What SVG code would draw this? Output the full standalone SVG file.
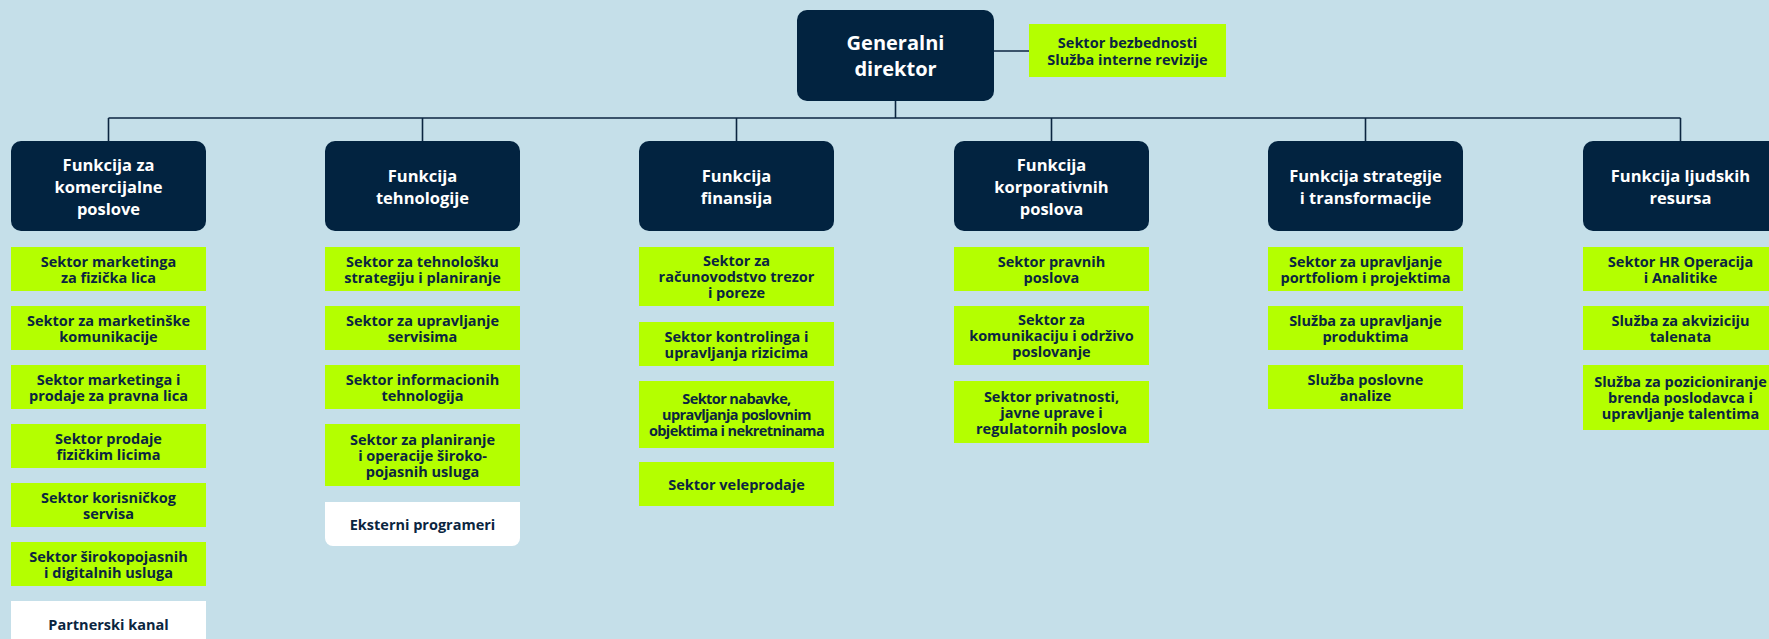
<svg xmlns="http://www.w3.org/2000/svg" width="1769" height="639" viewBox="0 0 1769 639">
<style>
.bg{fill:#c5dfe9}
.dk{fill:#022340}
.gr{fill:#b4ff00}
.wh{fill:#ffffff}
.ln{stroke:#0b2540;stroke-width:1.6;fill:none}
text{font-family:"Open Sans","Liberation Sans",sans-serif;font-weight:700;text-anchor:middle;dominant-baseline:central}
.ht{fill:#ffffff;font-size:16.5px}
.gt{fill:#0b2540;font-size:14.5px}
.tt{fill:#ffffff;font-size:20px}
.cd{letter-spacing:-0.6px}
</style>
<rect class="bg" x="0" y="0" width="1769" height="639"/>
<g id="connectors">
<line class="ln" x1="895.5" y1="101" x2="895.5" y2="118"/>
<line class="ln" x1="994" y1="51" x2="1029" y2="51"/>
<line class="ln" x1="108.5" y1="118" x2="1680.5" y2="118"/>
<line class="ln" x1="108.5" y1="118" x2="108.5" y2="141"/>
<line class="ln" x1="422.5" y1="118" x2="422.5" y2="141"/>
<line class="ln" x1="736.5" y1="118" x2="736.5" y2="141"/>
<line class="ln" x1="1051.5" y1="118" x2="1051.5" y2="141"/>
<line class="ln" x1="1365.5" y1="118" x2="1365.5" y2="141"/>
<line class="ln" x1="1680.5" y1="118" x2="1680.5" y2="141"/>
</g>
<g id="gd">
<rect class="dk" x="797" y="10" width="197" height="91" rx="10"/>
<text class="tt" x="895.5" y="42">Generalni</text>
<text class="tt" x="895.5" y="68">direktor</text>
</g>
<g id="side">
<rect class="gr" x="1029" y="24" width="197" height="53"/>
<text class="gt" x="1127.5" y="42.5">Sektor bezbednosti</text>
<text class="gt" x="1127.5" y="59">Služba interne revizije</text>
</g>
<!-- Column 1 -->
<g id="f1">
<rect class="dk" x="11" y="141" width="195" height="90" rx="10"/>
<text class="ht" x="108.5" y="164">Funkcija za</text>
<text class="ht" x="108.5" y="186">komercijalne</text>
<text class="ht" x="108.5" y="208">poslove</text>
</g>
<g id="f1s1"><rect class="gr" x="11" y="247" width="195" height="44"/>
<text class="gt" x="108.5" y="261">Sektor marketinga</text><text class="gt" x="108.5" y="277">za fizička lica</text></g>
<g id="f1s2"><rect class="gr" x="11" y="306" width="195" height="44"/>
<text class="gt" x="108.5" y="320">Sektor za marketinške</text><text class="gt" x="108.5" y="336">komunikacije</text></g>
<g id="f1s3"><rect class="gr" x="11" y="365" width="195" height="44"/>
<text class="gt" x="108.5" y="379">Sektor marketinga i</text><text class="gt" x="108.5" y="395">prodaje za pravna lica</text></g>
<g id="f1s4"><rect class="gr" x="11" y="424" width="195" height="44"/>
<text class="gt" x="108.5" y="438">Sektor prodaje</text><text class="gt" x="108.5" y="454">fizičkim licima</text></g>
<g id="f1s5"><rect class="gr" x="11" y="483" width="195" height="44"/>
<text class="gt" x="108.5" y="497">Sektor korisničkog</text><text class="gt" x="108.5" y="513">servisa</text></g>
<g id="f1s6"><rect class="gr" x="11" y="542" width="195" height="44"/>
<text class="gt" x="108.5" y="556">Sektor širokopojasnih</text><text class="gt" x="108.5" y="572">i digitalnih usluga</text></g>
<g id="f1w"><path class="wh" d="M11,601 H206 V639 A8,8 0 0 1 198,647 H19 A8,8 0 0 1 11,639 Z"/>
<text class="gt" x="108.5" y="624">Partnerski kanal</text></g>
<!-- Column 2 -->
<g id="f2">
<rect class="dk" x="325" y="141" width="195" height="90" rx="10"/>
<text class="ht" x="422.5" y="175">Funkcija</text>
<text class="ht" x="422.5" y="197">tehnologije</text>
</g>
<g id="f2s1"><rect class="gr" x="325" y="247" width="195" height="44"/>
<text class="gt" x="422.5" y="261">Sektor za tehnološku</text><text class="gt" x="422.5" y="277">strategiju i planiranje</text></g>
<g id="f2s2"><rect class="gr" x="325" y="306" width="195" height="44"/>
<text class="gt" x="422.5" y="320">Sektor za upravljanje</text><text class="gt" x="422.5" y="336">servisima</text></g>
<g id="f2s3"><rect class="gr" x="325" y="365" width="195" height="44"/>
<text class="gt" x="422.5" y="379">Sektor informacionih</text><text class="gt" x="422.5" y="395">tehnologija</text></g>
<g id="f2s4"><rect class="gr" x="325" y="424" width="195" height="62"/>
<text class="gt" x="422.5" y="439">Sektor za planiranje</text><text class="gt" x="422.5" y="455">i operacije široko-</text><text class="gt" x="422.5" y="471">pojasnih usluga</text></g>
<g id="f2w"><path class="wh" d="M325,502 H520 V538 A8,8 0 0 1 512,546 H333 A8,8 0 0 1 325,538 Z"/>
<text class="gt" x="422.5" y="524">Eksterni programeri</text></g>
<!-- Column 3 -->
<g id="f3">
<rect class="dk" x="639" y="141" width="195" height="90" rx="10"/>
<text class="ht" x="736.5" y="175">Funkcija</text>
<text class="ht" x="736.5" y="197">finansija</text>
</g>
<g id="f3s1"><rect class="gr" x="639" y="247" width="195" height="59"/>
<text class="gt" x="736.5" y="260.5">Sektor za</text><text class="gt" x="736.5" y="276.5">računovodstvo trezor</text><text class="gt" x="736.5" y="292.5">i poreze</text></g>
<g id="f3s2"><rect class="gr" x="639" y="322" width="195" height="44"/>
<text class="gt" x="736.5" y="336">Sektor kontrolinga i</text><text class="gt" x="736.5" y="352">upravljanja rizicima</text></g>
<g id="f3s3"><rect class="gr" x="639" y="381" width="195" height="67"/>
<text class="gt cd" x="736.5" y="398.5">Sektor nabavke,</text><text class="gt cd" x="736.5" y="414.5">upravljanja poslovnim</text><text class="gt cd" x="736.5" y="430.5">objektima i nekretninama</text></g>
<g id="f3s4"><rect class="gr" x="639" y="462" width="195" height="44"/>
<text class="gt" x="736.5" y="484">Sektor veleprodaje</text></g>
<!-- Column 4 -->
<g id="f4">
<rect class="dk" x="954" y="141" width="195" height="90" rx="10"/>
<text class="ht" x="1051.5" y="164">Funkcija</text>
<text class="ht" x="1051.5" y="186">korporativnih</text>
<text class="ht" x="1051.5" y="208">poslova</text>
</g>
<g id="f4s1"><rect class="gr" x="954" y="247" width="195" height="44"/>
<text class="gt" x="1051.5" y="261">Sektor pravnih</text><text class="gt" x="1051.5" y="277">poslova</text></g>
<g id="f4s2"><rect class="gr" x="954" y="306" width="195" height="59"/>
<text class="gt" x="1051.5" y="319.5">Sektor za</text><text class="gt" x="1051.5" y="335.5">komunikaciju i održivo</text><text class="gt" x="1051.5" y="351.5">poslovanje</text></g>
<g id="f4s3"><rect class="gr" x="954" y="381" width="195" height="62"/>
<text class="gt" x="1051.5" y="396">Sektor privatnosti,</text><text class="gt" x="1051.5" y="412">javne uprave i</text><text class="gt" x="1051.5" y="428">regulatornih poslova</text></g>
<!-- Column 5 -->
<g id="f5">
<rect class="dk" x="1268" y="141" width="195" height="90" rx="10"/>
<text class="ht" x="1365.5" y="175">Funkcija strategije</text>
<text class="ht" x="1365.5" y="197">i transformacije</text>
</g>
<g id="f5s1"><rect class="gr" x="1268" y="247" width="195" height="44"/>
<text class="gt" x="1365.5" y="261">Sektor za upravljanje</text><text class="gt" x="1365.5" y="277">portfoliom i projektima</text></g>
<g id="f5s2"><rect class="gr" x="1268" y="306" width="195" height="44"/>
<text class="gt" x="1365.5" y="320">Služba za upravljanje</text><text class="gt" x="1365.5" y="336">produktima</text></g>
<g id="f5s3"><rect class="gr" x="1268" y="365" width="195" height="44"/>
<text class="gt" x="1365.5" y="379">Služba poslovne</text><text class="gt" x="1365.5" y="395">analize</text></g>
<!-- Column 6 -->
<g id="f6">
<rect class="dk" x="1583" y="141" width="195" height="90" rx="10"/>
<text class="ht" x="1680.5" y="175">Funkcija ljudskih</text>
<text class="ht" x="1680.5" y="197">resursa</text>
</g>
<g id="f6s1"><rect class="gr" x="1583" y="247" width="195" height="44"/>
<text class="gt" x="1680.5" y="261">Sektor HR Operacija</text><text class="gt" x="1680.5" y="277">i Analitike</text></g>
<g id="f6s2"><rect class="gr" x="1583" y="306" width="195" height="44"/>
<text class="gt" x="1680.5" y="320">Služba za akviziciju</text><text class="gt" x="1680.5" y="336">talenata</text></g>
<g id="f6s3"><rect class="gr" x="1583" y="365" width="195" height="65"/>
<text class="gt" x="1680.5" y="381.5">Služba za pozicioniranje</text><text class="gt" x="1680.5" y="397.5">brenda poslodavca i</text><text class="gt" x="1680.5" y="413.5">upravljanje talentima</text></g>
</svg>
